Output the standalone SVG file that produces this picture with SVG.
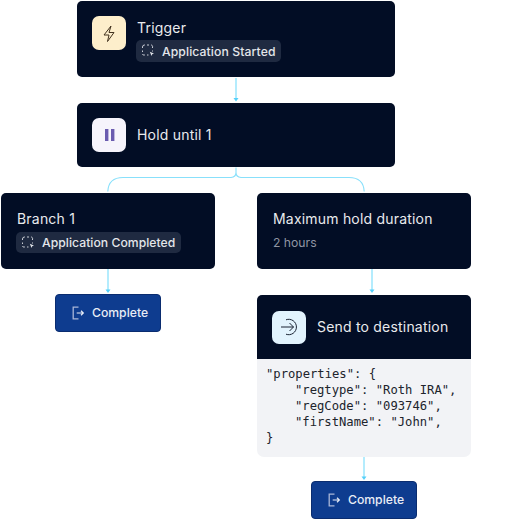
<svg xmlns="http://www.w3.org/2000/svg" width="515" height="519" viewBox="0 0 515 519">
<defs>
<g id="arrowhead"><path d="M-2.500 -3.500H2.500L0 0Z" fill="#55d0fa"/></g>
<g id="dashicon"><path d="M3 .5H2.500A2 2 0 0 0 .5 2.500V3.500M.5 6V7.500M.5 9.500A1.500 1.500 0 0 0 2.500 10.500H3M5 .5H7M9 .5A1.500 1.500 0 0 1 10.500 2.500V3.500M10.500 6V7M5 10.500H6.500" fill="none" stroke="#c9ccd4" stroke-width="1"/><path d="M7.800 7.300l4.200 1.700-1.800.7-.7 1.800z" fill="#dfe1e6"/></g>
<g id="exit"><path d="M6.500 0.700H1.200V12.300H6.500" fill="none" stroke="#a9b6d8" stroke-width="1.300"/><path d="M4.700 6.500H11.200M9 4.300l2.300 2.200-2.300 2.200" fill="none" stroke="#e7ecf6" stroke-width="1.200"/></g>
</defs>
<style>
text{font-family:Inter,"Liberation Sans",sans-serif}
.node{fill:#020d25}
.t{font-size:14px;fill:#e9eaed;letter-spacing:.2px}
.b{font-size:12.200px;font-weight:500;fill:#e4e6ea;letter-spacing:.1px}
.pill{fill:#1f2a41}
.c{fill:none;stroke:#88e0fb;stroke-width:1.100}
.l{stroke:#9be6fc;stroke-width:1.500;fill:none}
.btn{fill:#0e3c8f;stroke:#0a2c6f}
.m{font-family:"DejaVu Sans Mono","Liberation Mono",monospace;font-size:12.200px;fill:#20242c}
.comp{font-size:12.200px;font-weight:500;fill:#e9edf6}
</style>
<g id="connectors">
<path class="l" d="M236 78V99"/><use href="#arrowhead" x="236" y="101.500"/>
<path class="c" d="M236 167.500V172.500Q236 177 231 177.500H123Q108.500 177.500 107.800 191.500M236 172.500Q236 177 241 177.500H349Q363.500 177.500 364.200 191.500"/>
<path class="l" d="M108 269V290"/><use href="#arrowhead" x="108" y="293"/>
<path class="l" d="M372 269V290"/><use href="#arrowhead" x="372" y="293"/>
<path class="l" d="M364 457V477"/><use href="#arrowhead" x="364" y="480"/>
</g>
<g id="trigger">
<rect class="node" x="77" y="1" width="318" height="76" rx="5"/>
<rect x="92" y="16" width="34" height="34" rx="7" fill="#fdeecb"/>
<path d="M111 26L104 35H109L107.500 41.500L114 32.500H109Z" fill="none" stroke="#43331f" stroke-width="1"/>
<text class="t" x="137" y="32.500">Trigger</text>
<rect class="pill" x="136" y="40" width="145" height="22" rx="5"/>
<use href="#dashicon" x="142" y="44.500"/>
<text class="b" x="162" y="55.500">Application Started</text>
</g>
<g id="hold">
<rect class="node" x="77" y="103" width="318" height="64" rx="5"/>
<rect x="92" y="118" width="34" height="34" rx="7" fill="#f6f4fc"/>
<rect x="105" y="129" width="3.400" height="12" fill="#6a5bb0"/><rect x="111" y="129" width="3.400" height="12" fill="#6a5bb0"/>
<text class="t" x="137" y="140">Hold until 1</text>
</g>
<g id="branch">
<rect class="node" x="1" y="193" width="214" height="76" rx="5"/>
<text class="t" x="17" y="224">Branch 1</text>
<rect class="pill" x="16" y="232" width="165" height="21" rx="5"/>
<use href="#dashicon" x="22" y="236.500"/>
<text class="b" x="42" y="247" style="letter-spacing:.03px">Application Completed</text>
</g>
<g id="complete1">
<rect class="btn" x="55.500" y="294.500" width="105" height="37" rx="3.500"/>
<use href="#exit" x="72" y="306.500"/>
<text class="comp" x="92" y="317">Complete</text>
</g>
<g id="maxhold">
<rect class="node" x="257" y="193" width="214" height="76" rx="5"/>
<text class="t" x="273" y="224">Maximum hold duration</text>
<text x="273" y="247" font-size="12.200" fill="#8f95a3">2 hours</text>
</g>
<g id="send">
<path fill="#f2f3f6" d="M257 359H471V450a7 7 0 0 1-7 7H264a7 7 0 0 1-7-7Z"/>
<path class="node" d="M262 295H466a5 5 0 0 1 5 5V359H257V300a5 5 0 0 1 5-5Z"/>
<rect x="272" y="311" width="34" height="33" rx="7" fill="#e2f3fd"/>
<path d="M286 319.800A7.700 7.700 0 1 1 286 334.200M281 327H293.500M289.500 323l4 4-4 4" fill="none" stroke="#1a2333" stroke-width="1"/>
<text class="t" x="317" y="332">Send to destination</text>
<text class="m" x="266" y="378">"properties": {</text>
<text class="m" x="295" y="394">"regtype": "Roth IRA",</text>
<text class="m" x="295" y="410">"regCode": "093746",</text>
<text class="m" x="295" y="426">"firstName": "John",</text>
<text class="m" x="266" y="442">}</text>
</g>
<g id="complete2">
<rect class="btn" x="311.500" y="481.500" width="105" height="37" rx="3.500"/>
<use href="#exit" x="328" y="493.500"/>
<text class="comp" x="348" y="504">Complete</text>
</g>
</svg>
